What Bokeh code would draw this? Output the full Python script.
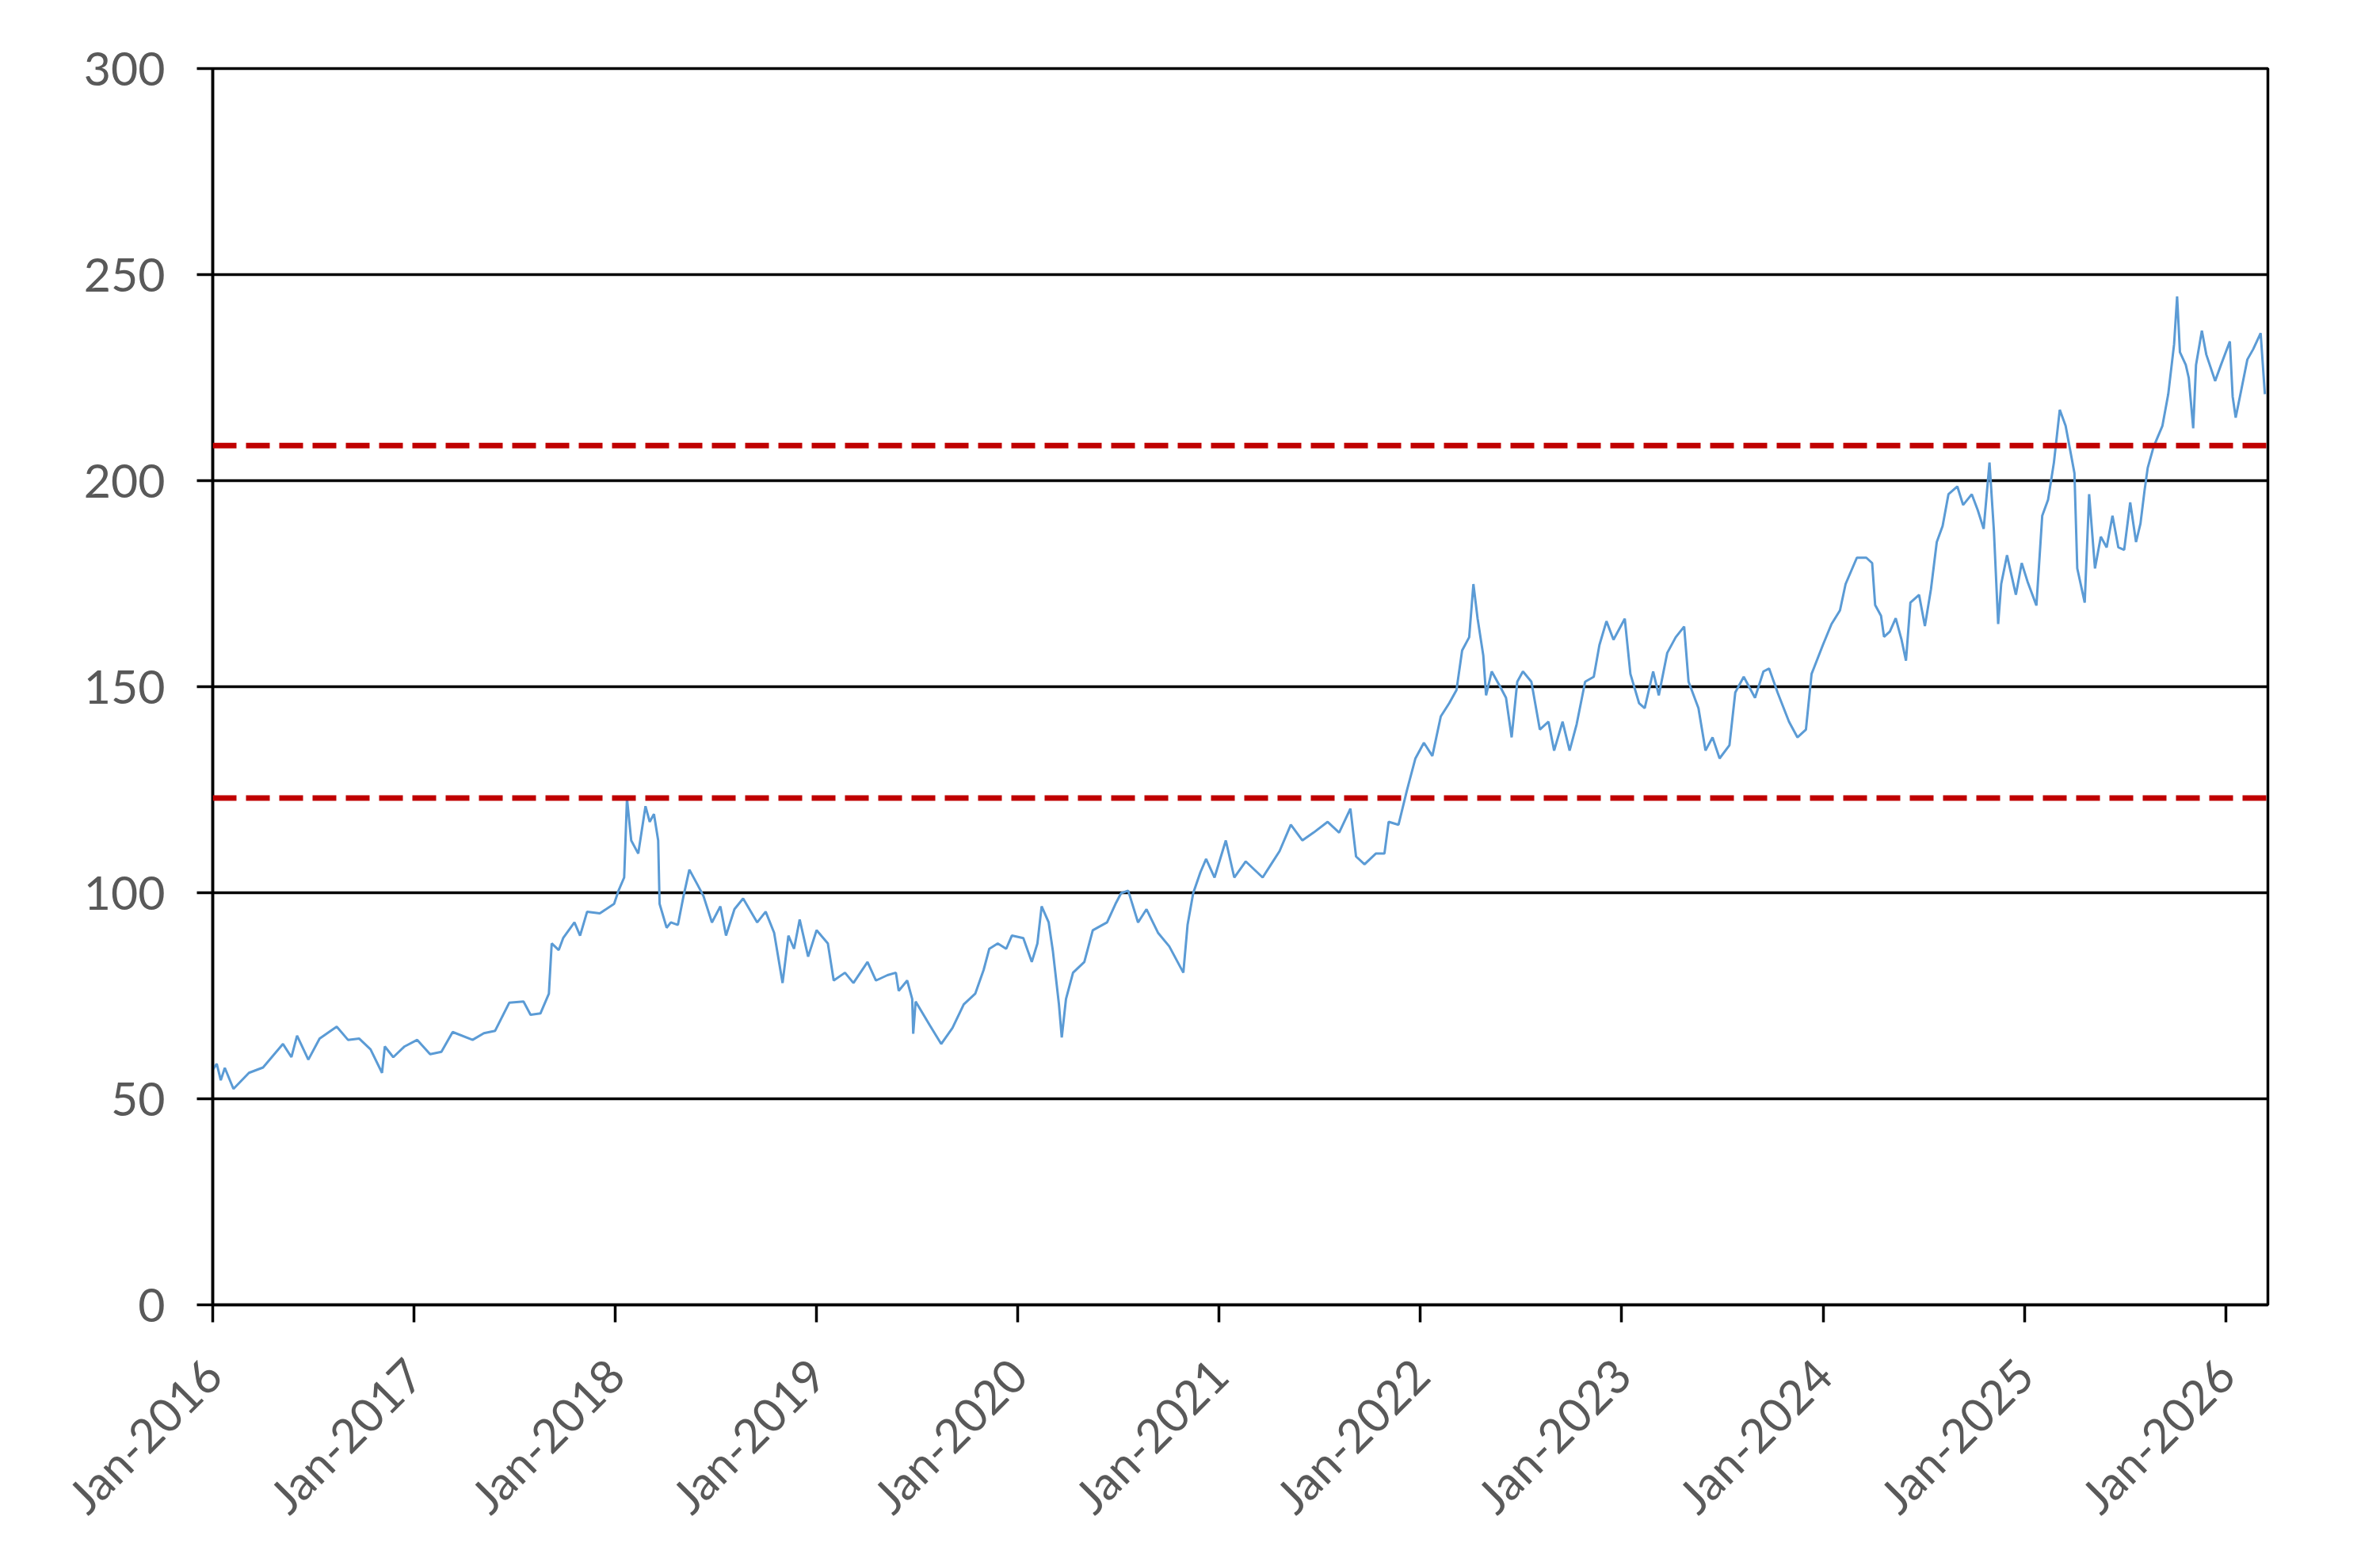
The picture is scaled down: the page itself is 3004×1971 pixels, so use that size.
import math
from bokeh.plotting import figure
from bokeh.models import FixedTicker, Span, Range1d
from bokeh.embed import file_html
from bokeh.resources import INLINE

# decimal-year positions of the series and its values
years = [
    2016.000, 2016.020, 2016.040, 2016.060, 2016.103, 2016.180, 2016.250, 2016.349, 2016.391, 2016.419,
    2016.475, 2016.531, 2016.616, 2016.672, 2016.728, 2016.784, 2016.841, 2016.855, 2016.897, 2016.953,
    2017.016, 2017.080, 2017.136, 2017.192, 2017.291, 2017.347, 2017.403, 2017.473, 2017.544, 2017.579,
    2017.628, 2017.670, 2017.684, 2017.719, 2017.741, 2017.797, 2017.825, 2017.860, 2017.923, 2017.994,
    2018.016, 2018.044, 2018.058, 2018.079, 2018.114, 2018.150, 2018.171, 2018.192, 2018.213, 2018.220,
    2018.255, 2018.276, 2018.311, 2018.339, 2018.368, 2018.410, 2018.438, 2018.480, 2018.522, 2018.550,
    2018.592, 2018.635, 2018.705, 2018.747, 2018.789, 2018.831, 2018.860, 2018.888, 2018.916, 2018.958,
    2019.000, 2019.056, 2019.085, 2019.141, 2019.183, 2019.253, 2019.295, 2019.352, 2019.394, 2019.408,
    2019.450, 2019.475, 2019.480, 2019.492, 2019.563, 2019.619, 2019.675, 2019.731, 2019.788, 2019.830,
    2019.858, 2019.900, 2019.942, 2019.970, 2020.027, 2020.069, 2020.097, 2020.118, 2020.153, 2020.174,
    2020.204, 2020.218, 2020.239, 2020.274, 2020.330, 2020.372, 2020.443, 2020.485, 2020.513, 2020.548,
    2020.597, 2020.639, 2020.696, 2020.752, 2020.822, 2020.843, 2020.871, 2020.907, 2020.935, 2020.977,
    2021.033, 2021.075, 2021.132, 2021.216, 2021.258, 2021.300, 2021.356, 2021.413, 2021.469, 2021.539,
    2021.596, 2021.652, 2021.680, 2021.722, 2021.778, 2021.821, 2021.842, 2021.891, 2021.933, 2021.975,
    2022.017, 2022.059, 2022.101, 2022.143, 2022.179, 2022.207, 2022.242, 2022.263, 2022.284, 2022.312,
    2022.326, 2022.354, 2022.397, 2022.425, 2022.453, 2022.481, 2022.509, 2022.551, 2022.593, 2022.636,
    2022.664, 2022.706, 2022.741, 2022.776, 2022.818, 2022.861, 2022.889, 2022.924, 2022.959, 2023.015,
    2023.043, 2023.086, 2023.114, 2023.156, 2023.184, 2023.226, 2023.268, 2023.310, 2023.332, 2023.381,
    2023.416, 2023.451, 2023.486, 2023.535, 2023.564, 2023.606, 2023.662, 2023.704, 2023.732, 2023.774,
    2023.831, 2023.873, 2023.915, 2023.943, 2023.999, 2024.042, 2024.084, 2024.112, 2024.168, 2024.215,
    2024.244, 2024.259, 2024.288, 2024.303, 2024.332, 2024.361, 2024.390, 2024.412, 2024.434, 2024.477,
    2024.506, 2024.536, 2024.565, 2024.594, 2024.623, 2024.667, 2024.696, 2024.739, 2024.769, 2024.798,
    2024.827, 2024.849, 2024.870, 2024.885, 2024.914, 2024.958, 2024.987, 2025.016, 2025.060, 2025.089,
    2025.118, 2025.147, 2025.176, 2025.205, 2025.227, 2025.249, 2025.263, 2025.300, 2025.322, 2025.351,
    2025.380, 2025.409, 2025.438, 2025.467, 2025.496, 2025.526, 2025.555, 2025.577, 2025.598, 2025.613,
    2025.642, 2025.686, 2025.715, 2025.744, 2025.759, 2025.773, 2025.802, 2025.817, 2025.839, 2025.853,
    2025.882, 2025.904, 2025.948, 2025.977, 2026.021, 2026.035, 2026.050, 2026.079, 2026.108, 2026.137,
    2026.174, 2026.195,
]
prices = [
    57.0, 58.5, 54.5, 57.5, 52.4, 56.3, 57.6, 63.3, 60.1, 65.3,
    59.5, 64.6, 67.5, 64.3, 64.6, 62.0, 56.3, 62.7, 60.1, 62.7,
    64.3, 60.8, 61.4, 66.2, 64.3, 65.9, 66.5, 73.3, 73.6, 70.4,
    70.7, 75.5, 87.7, 86.1, 89.0, 92.8, 89.6, 95.4, 95.0, 97.3,
    100.5, 103.7, 122.9, 112.7, 109.5, 121.0, 117.2, 119.1, 112.7, 97.3,
    91.5, 92.8, 92.2, 99.2, 105.6, 101.8, 99.2, 92.8, 96.7, 89.6,
    96.0, 98.6, 92.8, 95.4, 90.3, 78.1, 89.6, 86.4, 93.5, 84.5,
    90.9, 87.7, 78.7, 80.6, 78.1, 83.2, 78.7, 80.0, 80.6, 76.2,
    78.7, 74.2, 65.8, 73.6, 67.8, 63.3, 67.2, 72.9, 75.5, 81.3,
    86.4, 87.7, 86.4, 89.6, 89.0, 83.2, 87.7, 96.7, 92.8, 85.8,
    72.9, 64.9, 74.2, 80.6, 83.2, 90.9, 92.8, 97.3, 99.9, 100.5,
    92.8, 96.0, 90.3, 87.0, 80.6, 92.2, 99.9, 105.0, 108.2, 103.7,
    112.7, 103.7, 107.6, 103.7, 106.9, 110.1, 116.5, 112.7, 114.6, 117.2,
    114.6, 120.4, 108.8, 106.9, 109.5, 109.5, 117.2, 116.5, 124.9, 132.6,
    136.4, 133.2, 142.8, 146.0, 149.2, 158.8, 162.0, 174.9, 166.5, 157.6,
    147.9, 153.7, 149.9, 147.3, 137.7, 151.2, 153.7, 151.2, 139.6, 141.5,
    134.5, 141.5, 134.5, 140.9, 151.2, 152.4, 160.1, 165.9, 161.4, 166.5,
    153.1, 146.0, 144.8, 153.7, 147.9, 158.2, 162.0, 164.6, 151.2, 144.8,
    134.5, 137.7, 132.6, 135.8, 148.6, 152.4, 147.3, 153.7, 154.4, 148.6,
    141.5, 137.7, 139.6, 153.1, 160.1, 165.2, 168.5, 174.9, 181.3, 181.3,
    180.0, 169.8, 167.2, 162.1, 163.4, 166.6, 161.4, 156.3, 170.4, 172.3,
    164.7, 173.6, 185.1, 189.0, 196.7, 198.6, 194.1, 196.7, 192.8, 188.3,
    204.4, 187.7, 165.2, 174.9, 181.9, 172.3, 180.0, 175.5, 169.7, 191.5,
    195.4, 204.4, 217.2, 213.3, 207.6, 201.8, 178.7, 170.4, 196.7, 178.7,
    186.4, 183.8, 191.5, 183.8, 183.2, 194.7, 185.1, 189.6, 197.9, 203.1,
    208.2, 213.3, 221.0, 233.1, 244.7, 231.2, 228.1, 224.9, 212.7, 228.1,
    236.4, 230.6, 224.2, 228.1, 233.8, 220.4, 215.3, 222.3, 229.4, 231.9,
    235.8, 221.0,
]

# horizontal reference levels (red dashed)
reference_levels = [123.0, 208.5]

# axis ticks and labels
y_ticks = [0, 50, 100, 150, 200, 250, 300]
x_ticks = [2016, 2017, 2018, 2019, 2020, 2021, 2022, 2023, 2024, 2025, 2026]
x_tick_labels = ["Jan-2016", "Jan-2017", "Jan-2018", "Jan-2019", "Jan-2020", "Jan-2021",
                 "Jan-2022", "Jan-2023", "Jan-2024", "Jan-2025", "Jan-2026"]

FONT = "Lato"
LABEL_COLOR = "#595959"

p = figure(width=2980, height=1950, output_backend="svg", toolbar_location=None,
           x_range=Range1d(2016.0, 2026.21), y_range=Range1d(0, 300),
           min_border_left=268, min_border_right=118, min_border_top=86, min_border_bottom=304)

p.background_fill_color = "white"
p.border_fill_color = "white"
p.outline_line_color = "black"
p.outline_line_width = 3.5

p.xgrid.grid_line_color = None
p.ygrid.grid_line_color = "black"
p.ygrid.grid_line_width = 3.5

p.yaxis.ticker = FixedTicker(ticks=y_ticks)
p.xaxis.ticker = FixedTicker(ticks=x_ticks)
p.xaxis.major_label_overrides = {t: lab for t, lab in zip(x_ticks, x_tick_labels)}
p.xaxis.major_label_orientation = math.pi / 4

for ax in (p.xaxis, p.yaxis):
    ax.axis_line_color = "black"
    ax.axis_line_width = 3.5
    ax.major_tick_line_color = "black"
    ax.major_tick_line_width = 3.5
    ax.major_tick_in = 0
    ax.minor_tick_line_color = None
    ax.major_label_text_font = FONT
    ax.major_label_text_font_size = "59px"
    ax.major_label_text_color = LABEL_COLOR

p.yaxis.major_tick_out = 20
p.yaxis.major_label_standoff = 40
p.xaxis.major_tick_out = 22
p.xaxis.major_label_standoff = 56

for lvl in reference_levels:
    p.add_layout(Span(location=lvl, dimension="width", line_color="#C00000",
                      line_width=7, line_dash="30 12"))

p.line(years, prices, line_color="#5B9BD5", line_width=3)

open("out.html", "w").write(file_html(p, INLINE))
